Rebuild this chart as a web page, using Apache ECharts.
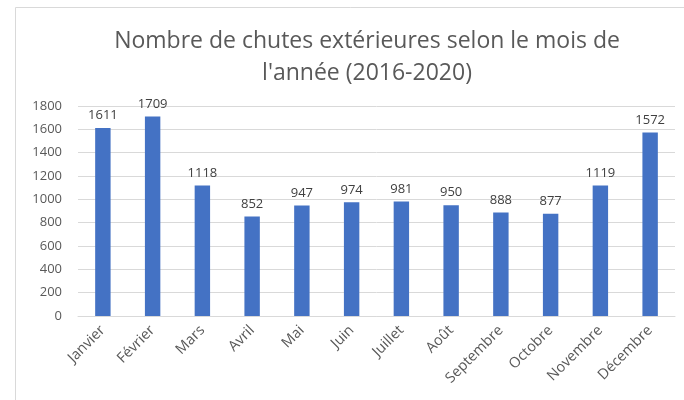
<!DOCTYPE html>
<html><head><meta charset="utf-8">
<script src="https://cdn.jsdelivr.net/npm/echarts@6/dist/echarts.min.js"></script>
<style>html,body{margin:0;padding:0;background:#fff}#c{width:684px;height:400px}</style>
</head><body><div id="c"></div>
<script>
const categories = ['Janvier','Février','Mars','Avril','Mai','Juin','Juillet','Août','Septembre','Octobre','Novembre','Décembre'];
const values = [1611,1709,1118,852,947,974,981,950,888,877,1119,1572];
const titleLines = ["Nombre de chutes extérieures selon le mois de", "l'année (2016-2020)"];
const chart = echarts.init(document.getElementById('c'));
const font = "'Open Sans', 'Liberation Sans', sans-serif";
chart.setOption({
  animation: false,
  graphic: [{
    type: 'rect', shape: {x: 15.5, y: 7.5, width: 700, height: 420},
    style: {fill: 'none', stroke: '#d9d9d9', lineWidth: 1}, silent: true
  }],
  title: {
    text: titleLines.join('\n'), left: 362, textAlign: 'center', top: 20,
    textStyle: {fontFamily: font, fontSize: 23, fontWeight: 'normal', color: '#595959', lineHeight: 32}
  },
  grid: {left: 78, right: 9, top: 106, bottom: 84, containLabel: false},
  xAxis: {
    type: 'category', data: categories,
    axisLine: {lineStyle: {color: '#d9d9d9'}},
    axisTick: {show: false},
    axisLabel: {rotate: 45, color: '#595959', fontFamily: font, fontSize: 14.5, interval: 0, margin: 12}
  },
  yAxis: {
    type: 'value', min: 0, max: 1800, interval: 200,
    axisLine: {show: false}, axisTick: {show: false},
    splitLine: {lineStyle: {color: '#d9d9d9'}},
    axisLabel: {color: '#595959', fontFamily: font, fontSize: 13, margin: 16, formatter: v => String(v)}
  },
  series: [{
    type: 'bar', data: values, barWidth: '31%',
    itemStyle: {color: '#4472c4'},
    label: {show: true, position: 'top', distance: 6, color: '#404040', fontFamily: font, fontSize: 13}
  }]
});
</script></body></html>
